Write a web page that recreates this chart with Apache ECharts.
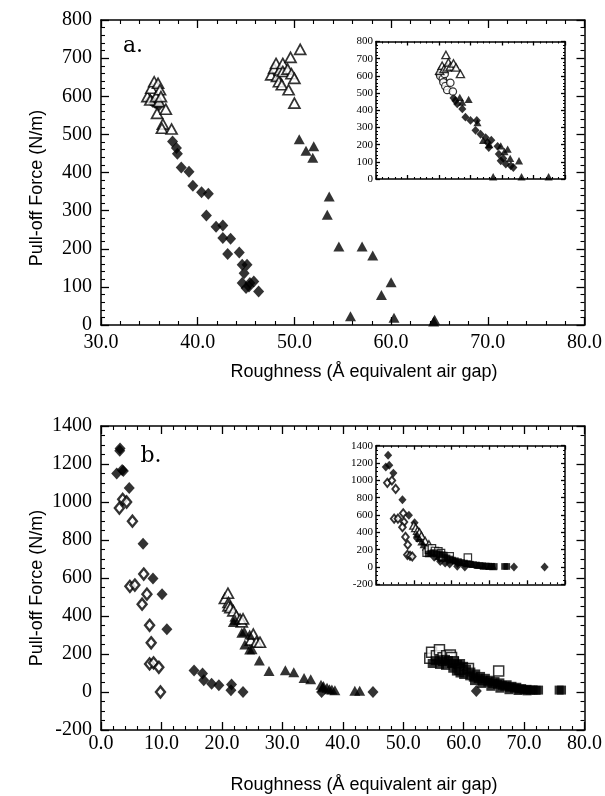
<!DOCTYPE html>
<html>
<head>
<meta charset="utf-8">
<script src="https://cdn.jsdelivr.net/npm/echarts@6/dist/echarts.min.js"></script>
<style>
  html, body { margin: 0; padding: 0; background: #fff; }
  #chart { width: 605px; height: 796px; }
</style>
</head>
<body>
<div id="chart"></div>
<script>
// ---------- Panel a: pull-off force vs roughness ----------
const aOpenTriLeft = [[34.8,599],[35.1,590],[35.2,621],[35.5,638],[35.7,599],[35.9,634],[36.0,586],[36.1,617],[36.2,599],[35.8,555],[36.7,566],[36.4,527],[36.3,516],[37.3,514]];
const aDiamond = [[35.1,590],[35.3,586],[35.6,582],[35.96,575],[37.4,481],[37.8,464],[37.9,449],[38.3,413],[39.1,402],[39.5,365],[40.4,348],[41.1,344],[40.9,287],[41.9,258],[42.6,261],[42.6,228],[43.4,226],[43.1,186],[44.3,190],[44.6,158],[45.1,158],[44.8,136],[44.6,110],[45.0,97],[45.3,101],[45.4,110],[45.8,114],[46.3,88]];
const aOpenTriRight = [[47.6,656],[47.9,673],[48.1,686],[48.2,652],[48.4,638],[48.5,669],[48.7,630],[48.8,686],[48.8,665],[49.3,671],[49.4,617],[49.6,702],[49.7,659],[50.0,647],[50.0,582],[50.6,723]];
const aFillTri = [[50.5,487],[51.2,457],[52.0,469],[51.9,439],[53.6,337],[53.4,289],[54.6,206],[57.0,206],[58.1,182],[60.0,112],[59.0,79],[55.8,23],[60.3,19],[64.5,14],[64.4,9]];

// inset a: the same measurements collapsed onto one curve
const iaOpenTri = [[35.1,630],[35.5,659],[35.8,640],[36.1,722],[36.3,649],[36.5,678],[36.8,655],[37.3,672],[37.7,649],[38.4,611]];
const iaOpenCircle = [[35.2,600],[35.6,582],[35.9,611],[35.7,563],[36.0,540],[36.3,518],[36.8,560],[37.2,509]];
const iaDiamond = [[35.0,607],[35.4,592],[35.8,575],[37.3,472],[37.6,455],[37.9,437],[38.7,408],[39.2,360],[40.0,341],[41.0,341],[40.8,283],[41.6,260],[42.4,241],[42.7,212],[42.9,183],[43.3,226],[44.3,190],[44.5,145],[44.8,106],[45.2,120],[45.6,87],[46.4,77],[46.8,67]];
const iaFillTri = [[38.3,475],[38.7,447],[39.7,463],[41.1,328],[42.0,225],[43.0,200],[44.8,193],[45.4,160],[45.9,174],[46.3,120],[47.7,106],[43.6,13],[48.1,13],[52.4,13]];

// ---------- Panel b ----------
const bFillDiamond = [[2.6,1150],[3.15,1282],[3.1,1270],[3.5,1168],[3.7,1163],[4.67,1074],[6.96,780],[8.6,598],[10.1,515],[10.9,330],[15.4,113],[16.8,97],[17.0,62],[18.3,44],[19.5,35],[21.6,39],[21.5,9],[23.5,0],[36.5,0],[45.0,0],[62.1,5]];
const bOpenDiamond = [[3.04,968],[3.59,1014],[4.24,1000],[5.2,899],[4.78,556],[5.6,563],[7.07,621],[7.6,515],[6.8,462],[8.04,351],[8.3,259],[8.04,148],[8.7,153],[9.57,130],[9.84,0]];
const bOpenTri = [[20.5,492],[21.0,520],[21.1,471],[21.1,453],[21.4,444],[21.9,427],[22.4,400],[23.0,383],[23.3,369],[23.5,385],[24.8,273],[25.2,305],[25.7,263],[26.3,262]];
const bFillTri = [[21.9,369],[22.2,380],[23.3,312],[23.7,319],[23.8,250],[24.6,224],[24.6,303],[25.0,225],[26.2,166],[27.8,111],[30.5,114],[31.9,104],[33.6,74],[34.7,67],[36.4,38],[36.7,25],[36.8,31],[37.4,22],[37.8,15],[38.2,13],[38.7,9],[42.0,6],[42.8,6]];
const bFillSq = [[54.8,150],[55.3,165],[55.9,170],[56.5,160],[57.0,172],[57.5,165],[58.0,150],[58.5,160],[59.0,145],[59.5,150],[60.0,135],[56.0,145],[57.0,140],[58.2,125],[58.8,110],[59.4,100],[60.0,92],[60.5,120],[61.0,85],[61.2,105],[61.6,78],[62.0,95],[62.4,70],[62.8,82],[63.2,60],[63.6,72],[64.0,52],[64.4,62],[64.8,45],[65.2,55],[65.6,40],[66.0,48],[66.4,35],[66.8,30],[67.2,38],[67.6,25],[68.0,30],[68.4,20],[68.8,25],[69.2,15],[69.6,18],[70.0,12],[70.5,14],[71.0,10],[71.5,11],[72.0,9],[72.4,10],[61.8,60],[63.0,45],[64.5,30],[66.0,20],[67.5,12],[69.0,8],[70.5,6],[75.8,10],[76.2,10]];
const bOpenSq = [[54.4,177],[54.7,209],[55.5,191],[56.0,223],[56.6,180],[57.2,191],[57.8,195],[58.0,182],[58.3,159],[59.4,120],[60.8,124],[65.8,111]];

// inset b
const ibFillDiamond = [[2.6,1154],[3.2,1290],[3.5,1174],[4.6,1084],[7.0,776],[8.7,597],[10.2,511],[10.9,330],[15.4,113],[16.8,97],[17.0,62],[18.3,44],[19.5,35],[21.6,39],[21.5,9],[23.5,0],[36.5,0],[44.6,0]];
const ibOpenDiamond = [[3.0,971],[4.2,998],[5.2,901],[4.8,558],[5.8,558],[7.2,620],[7.4,519],[7.0,460],[7.8,347],[8.4,257],[8.3,140],[9.0,129],[9.6,121]];
const ibOpenTri = [[10.0,480],[10.5,450],[11.0,420],[11.5,400],[12.0,360],[13.0,300],[14.0,260]];
const ibFillTri = [[10.8,380],[11.5,330],[12.0,290],[12.6,260],[13.2,230],[14.0,190],[15.0,160],[16.5,120],[18.0,100],[19.5,85],[21.0,70],[22.5,55],[24.0,40],[25.5,30],[27.0,20],[28.5,12],[30.0,8],[31.0,5]];
const ibOpenSq = [[13.4,165],[14.0,200],[14.8,215],[15.6,185],[16.5,180],[17.2,160],[17.8,125],[19.5,122],[24.3,108]];
const ibFillSq = [[13.8,150],[14.5,160],[15.2,165],[16.0,150],[16.8,155],[17.5,140],[18.2,120],[18.8,105],[19.5,92],[20.2,80],[21.0,72],[21.8,62],[22.6,52],[23.4,45],[24.2,38],[25.0,32],[25.8,27],[26.6,22],[27.4,18],[28.2,14],[29.0,11],[29.8,9],[30.6,8],[31.3,6],[34.0,6],[34.6,6]];

// ---------- axis text ----------
const xTitle = 'Roughness (Å equivalent air gap)';
const yTitle = 'Pull-off Force (N/m)';
const panelTags = ['a.', 'b.'];

// ---------- layout ----------
const grids = [
  { left: 101, top: 20,    width: 487, height: 305 },     // a
  { left: 376, top: 41.5,  width: 189, height: 137.5, z: 5, show: true, backgroundColor: '#fff', borderWidth: 0 }, // inset a
  { left: 101, top: 426,   width: 487, height: 304 },     // b
  { left: 376, top: 445.7, width: 189, height: 138.6, z: 5, show: true, backgroundColor: '#fff', borderWidth: 0 }  // inset b
];

const ranges = {
  ax:  { min: 30, max: 80,   interval: 10,  minor: 5, tick: 8, minorLen: 4 },
  ay:  { min: 0,  max: 800,  interval: 100, minor: 5, tick: 8, minorLen: 4 },
  iax: { min: 25, max: 55,   interval: 5,   minor: 5, tick: 4, minorLen: 2 },
  iay: { min: 0,  max: 800,  interval: 100, minor: 5, tick: 4, minorLen: 2 },
  bx:  { min: 0,  max: 80,   interval: 10,  minor: 5, tick: 8, minorLen: 4 },
  by:  { min: -200, max: 1400, interval: 200, minor: 4, tick: 8, minorLen: 4 },
  ibx: { min: 0,  max: 50,   interval: 10,  minor: 5, tick: 4, minorLen: 2 },
  iby: { min: -200, max: 1400, interval: 200, minor: 4, tick: 4, minorLen: 2 }
};

const SERIF = 'Liberation Serif';

function axis(gridIndex, position, r, label, z) {
  return {
    type: 'value', gridIndex, position,
    min: r.min, max: r.max, interval: r.interval, z: z || 0,
    axisLine: { show: true, onZero: false, lineStyle: { color: '#000', width: 1.5 } },
    axisTick: { show: true, inside: true, length: r.tick, lineStyle: { color: '#000', width: 1.3 } },
    minorTick: { show: true, splitNumber: r.minor, length: r.minorLen, lineStyle: { color: '#000', width: 1.1 } },
    splitLine: { show: false },
    minorSplitLine: { show: false },
    axisLabel: label ? Object.assign({ show: true, color: '#000', fontFamily: SERIF }, label) : { show: false }
  };
}

const fmt1 = v => v.toFixed(1);
const fmtInt = v => String(Math.round(v));
const mainX = (m) => ({ fontSize: 20, margin: m, formatter: fmt1 });
const mainY = { fontSize: 20, margin: 9, formatter: fmtInt };
const insetY = { fontSize: 11, margin: 3, formatter: fmtInt };

const xAxes = [
  axis(0, 'bottom', ranges.ax, mainX(8)), axis(0, 'top', ranges.ax, null),
  axis(1, 'bottom', ranges.iax, null, 6), axis(1, 'top', ranges.iax, null, 6),
  axis(2, 'bottom', ranges.bx, mainX(4)), axis(2, 'top', ranges.bx, null),
  axis(3, 'bottom', ranges.ibx, null, 6), axis(3, 'top', ranges.ibx, null, 6)
];
const yAxes = [
  axis(0, 'left', ranges.ay, mainY), axis(0, 'right', ranges.ay, null),
  axis(1, 'left', ranges.iay, insetY, 6), axis(1, 'right', ranges.iay, null, 6),
  axis(2, 'left', ranges.by, mainY), axis(2, 'right', ranges.by, null),
  axis(3, 'left', ranges.iby, insetY, 6), axis(3, 'right', ranges.iby, null, 6)
];

// ---------- marker styles ----------
function marker(kind, scale) {
  const k = scale || 1;
  const black = { color: '#000' };
  const open = (w) => ({ color: '#fff', borderColor: '#000', borderWidth: w * (k < 1 ? 0.8 : 1) });
  switch (kind) {
    case 'fDia': return { symbol: 'diamond', symbolSize: [11 * k, 12 * k], itemStyle: black };
    case 'oDia': return { symbol: 'diamond', symbolSize: [9 * k, 11 * k], itemStyle: open(2.4) };
    case 'fTri': return { symbol: 'triangle', symbolSize: [11 * k, 10 * k], itemStyle: black };
    case 'oTri': return { symbol: 'triangle', symbolSize: [11 * k, 10 * k], itemStyle: open(1.7) };
    case 'fSq':  return { symbol: 'rect', symbolSize: [9 * k, 9 * k], itemStyle: black };
    case 'oSq':  return { symbol: 'rect', symbolSize: [10 * k, 10 * k], itemStyle: open(1.5) };
    case 'oCir': return { symbol: 'circle', symbolSize: [10 * k, 10 * k], itemStyle: open(1.5) };
  }
}

function scatter(data, axisIdx, kind, scale, z) {
  return Object.assign({
    type: 'scatter', data, xAxisIndex: axisIdx, yAxisIndex: axisIdx,
    z: z || 2, silent: true, emphasis: { disabled: true }
  }, marker(kind, scale));
}

const IN = 0.74; // inset marker scale
const series = [
  // panel a
  scatter(aDiamond, 0, 'fDia'),
  scatter(aOpenTriLeft, 0, 'oTri'),
  scatter(aOpenTriRight, 0, 'oTri'),
  scatter(aFillTri, 0, 'fTri'),
  // inset a
  scatter(iaDiamond, 2, 'fDia', IN, 7),
  scatter(iaFillTri, 2, 'fTri', IN, 7),
  scatter(iaOpenCircle, 2, 'oCir', IN, 7),
  scatter(iaOpenTri, 2, 'oTri', IN, 7),
  // panel b
  scatter(bFillDiamond, 4, 'fDia'),
  scatter(bOpenDiamond, 4, 'oDia'),
  scatter(bOpenTri, 4, 'oTri'),
  scatter(bFillTri, 4, 'fTri'),
  scatter(bOpenSq, 4, 'oSq'),
  scatter(bFillSq, 4, 'fSq'),
  // inset b
  scatter(ibFillDiamond, 6, 'fDia', IN, 7),
  scatter(ibOpenDiamond, 6, 'oDia', IN, 7),
  scatter(ibOpenTri, 6, 'oTri', IN, 7),
  scatter(ibFillTri, 6, 'fTri', IN, 7),
  scatter(ibOpenSq, 6, 'oSq', IN, 7),
  scatter(ibFillSq, 6, 'fSq', IN, 7)
];

// ---------- titles and panel tags ----------
const SANS = 'Liberation Sans';
function text(t, x, y, font, extra) {
  return Object.assign({
    type: 'text', silent: true, z: 10,
    style: { text: t, x: 0, y: 0, font, fill: '#000', textAlign: 'center', textVerticalAlign: 'middle' },
    x, y
  }, extra || {});
}
const graphics = [
  text(yTitle, 37, 188, '18px ' + SANS, { rotation: Math.PI / 2 }),
  text(xTitle, 364, 372, '18px ' + SANS),
  text(yTitle, 37, 588, '18px ' + SANS, { rotation: Math.PI / 2 }),
  text(xTitle, 364, 785, '18px ' + SANS),
  text(panelTags[0], 133, 46, '22px "DejaVu Serif"'),
  text(panelTags[1], 151, 456, '22px "DejaVu Serif"')
];

const chart = echarts.init(document.getElementById('chart'), null, { renderer: 'canvas' });
chart.setOption({
  animation: false,
  backgroundColor: '#fff',
  grid: grids,
  xAxis: xAxes,
  yAxis: yAxes,
  series,
  graphic: graphics
});
</script>
</body>
</html>
